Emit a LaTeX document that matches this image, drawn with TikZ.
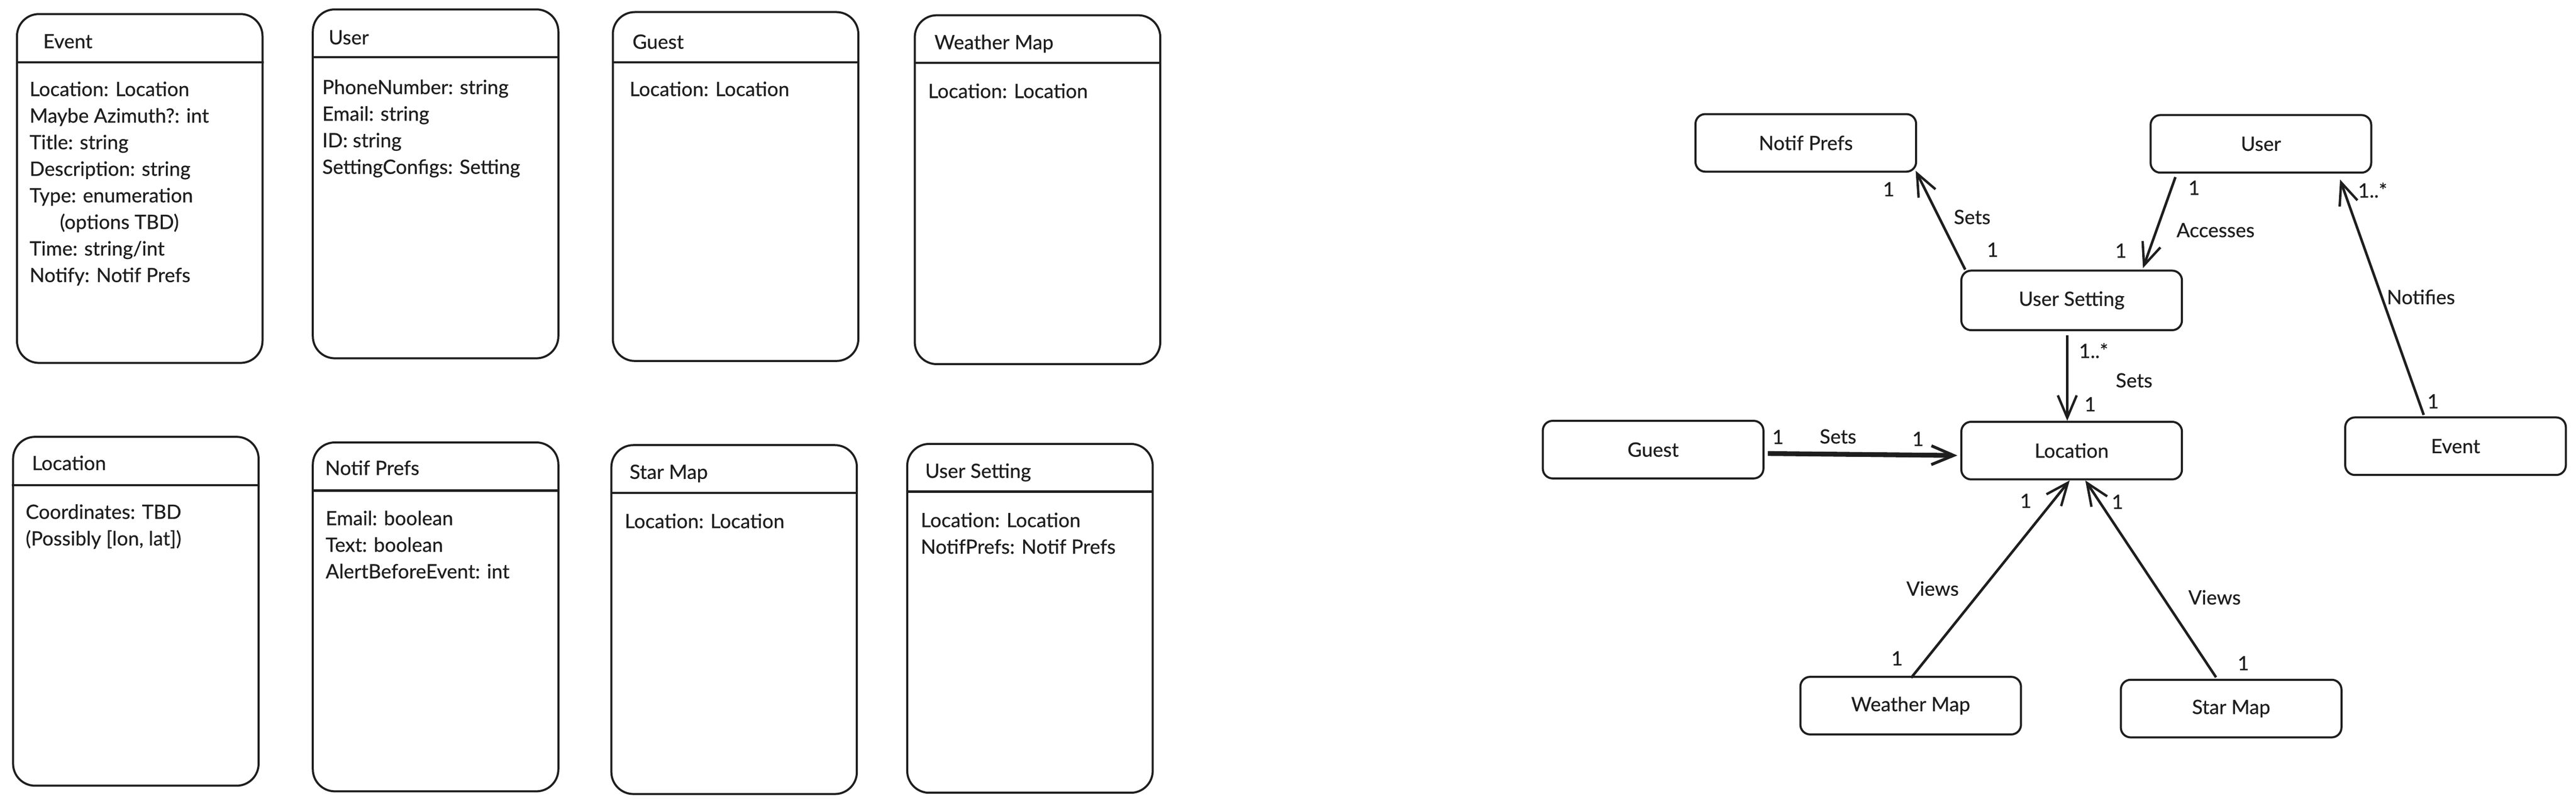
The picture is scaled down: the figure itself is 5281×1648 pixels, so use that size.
\documentclass[tikz,border=0pt]{standalone}
\usepackage{fontspec}
\setmainfont{Lato}[FakeBold=0.5]
\usetikzlibrary{arrows.meta,calc}
\definecolor{ink}{HTML}{1E1E1E}
\begin{document}
\begin{tikzpicture}[x=0.01cm,y=-0.01cm,
  classbox/.style={draw=ink, line width=1.2pt, rounded corners=0.45cm, minimum width=5.03cm, minimum height=7.15cm, inner sep=0pt},
  hline/.style={draw=ink, line width=1.3pt},
  rbox/.style={draw=ink, line width=1.2pt, rounded corners=0.2cm, minimum width=4.52cm, minimum height=1.18cm, inner sep=0pt, font=\fontsize{11.5}{13}\selectfont, text=ink},
  txt/.style={anchor=base west, inner sep=0pt, font=\fontsize{11.5}{13}\selectfont, text=ink},
  lbl/.style={inner sep=0pt, font=\fontsize{11.5}{13}\selectfont, text=ink},
  conn/.style={draw=ink, line width=1.5pt, -{Straight Barb[length=13pt,width=11pt,line width=1.4pt]}},
  thickconn/.style={draw=ink, line width=2.8pt, -{Straight Barb[length=13pt,width=11pt,line width=1.7pt]}}
]
\useasboundingbox[fill=white] (0,0) rectangle (5281,1648);

% ---------- left: class boxes ----------
\node[classbox] (cEvent) at (286.5,386.5) {};
\draw[hline] (cEvent.west |- 0,128) -- (cEvent.east |- 0,128);
\node[txt] (tEvent) at (88,99) {Event};
\node[txt] (ev1) at (60,197) {Location: Location};
\node[txt] (ev2) at (60,251.5) {Maybe Azimuth?: int};
\node[txt] (ev3) at (60,306) {Title: string};
\node[txt] (ev4) at (60,360.5) {Description: string};
\node[txt] (ev5) at (60,415) {Type: enumeration};
\node[txt] (ev6) at (122,469.5) {(options TBD)};
\node[txt] (ev7) at (60,524) {Time: string/int};
\node[txt] (ev8) at (60,578.5) {Notify: Notif Prefs};

\node[classbox] (cUser) at (893,377) {};
\draw[hline] (cUser.west |- 0,117) -- (cUser.east |- 0,117);
\node[txt] (tUser) at (673,91) {User};
\node[txt] (us1) at (660,193) {PhoneNumber: string};
\node[txt] (us2) at (660,247.5) {Email: string};
\node[txt] (us3) at (660,302) {ID: string};
\node[txt] (us4) at (660,356.5) {SettingConfigs: Setting};

\node[classbox] (cGuest) at (1508,382.5) {};
\draw[hline] (cGuest.west |- 0,128) -- (cGuest.east |- 0,128);
\node[txt] (tGuest) at (1296,100) {Guest};
\node[txt] (gu1) at (1290,197) {Location: Location};

\node[classbox] (cWeather) at (2127,389) {};
\draw[hline] (cWeather.west |- 0,129) -- (cWeather.east |- 0,129);
\node[txt] (tWeather) at (1915,101) {Weather Map};
\node[txt] (wm1) at (1902,201) {Location: Location};

\node[classbox] (cLocation) at (278.5,1253.5) {};
\draw[hline] (cLocation.west |- 0,995) -- (cLocation.east |- 0,995);
\node[txt] (tLocation) at (65,964) {Location};
\node[txt] (lo1) at (52,1064) {Coordinates: TBD};
\node[txt] (lo2) at (52,1118.5) {(Possibly [lon, lat])};

\node[classbox] (cNotif) at (893,1265) {};
\draw[hline] (cNotif.west |- 0,1006) -- (cNotif.east |- 0,1006);
\node[txt] (tNotif) at (666,974) {Notif Prefs};
\node[txt] (np1) at (667,1077) {Email: boolean};
\node[txt] (np2) at (667,1131.5) {Text: boolean};
\node[txt] (np3) at (667,1186) {AlertBeforeEvent: int};

\node[classbox] (cStar) at (1505,1270.5) {};
\draw[hline] (cStar.west |- 0,1011) -- (cStar.east |- 0,1011);
\node[txt] (tStar) at (1290,982) {Star Map};
\node[txt] (sm1) at (1280,1083) {Location: Location};

\node[classbox] (cSetting) at (2111.5,1268) {};
\draw[hline] (cSetting.west |- 0,1008) -- (cSetting.east |- 0,1008);
\node[txt] (tSetting) at (1896,980) {User Setting};
\node[txt] (st1) at (1887,1081) {Location: Location};
\node[txt] (st2) at (1887,1135.5) {NotifPrefs: Notif Prefs};

% ---------- right: relationship diagram ----------
\node[rbox] (np) at (3702,293) {Notif Prefs};
\node[rbox] (user) at (4635,295) {User};
\node[rbox, minimum height=1.22cm] (us) at (4247,616) {User Setting};
\node[rbox] (guest) at (3389,922) {Guest};
\node[rbox] (loc) at (4247,924) {Location};
\node[rbox] (event) at (5034,915) {Event};
\node[rbox] (wm) at (3917,1447) {Weather Map};
\node[rbox] (sm) at (4574,1453) {Star Map};

% User Setting -> Notif Prefs
\draw[conn] ($(us.north west)+(10,0)$) -- ($(np.south east)+(-3,-4)$);
\node[lbl] (a1) at (3872,388) {1};
\node[lbl] (a2) at (4043,445) {Sets};
\node[lbl] (a3) at (4085,512) {1};

% User -> User Setting
\draw[conn] ($(user.south west)+(53,7)$) -- ($(us.north east)+(-82,-3)$);
\node[lbl] (b1) at (4498,385) {1};
\node[lbl] (b2) at (4542,472) {Accesses};
\node[lbl] (b3) at (4348,514) {1};

% Event -> User
\draw[conn] ($(event.north west)+(163,-3)$) -- ($(user.south east)+(-66,12)$);
\node[lbl] (c1) at (4864,390) {1..*};
\node[lbl] (c2) at (4963,609) {Notifies};
\node[lbl] (c3) at (4988,823) {1};

% User Setting -> Location
\draw[conn] ($(us.south)+(-9,8)$) -- ($(loc.north)+(-9,0)$);
\node[lbl] (d1) at (4292,719) {1..*};
\node[lbl] (d2) at (4375,780) {Sets};
\node[lbl] (d3) at (4285,829) {1};

% Guest -> Location
\draw[thickconn] ($(guest.east)+(7,8)$) -- ($(loc.west)+(-6,10)$);
\node[lbl] (e1) at (3645,896) {1};
\node[lbl] (e2) at (3768,895) {Sets};
\node[lbl] (e3) at (3932,900) {1};

% Weather Map -> Location
\draw[conn] ($(wm.north)+(1,4)$) -- ($(loc.south)+(-4,0)$);
\node[lbl] (f1) at (4153,1027) {1};
\node[lbl] (f2) at (3962,1207) {Views};
\node[lbl] (f3) at (3889,1350) {1};

% Star Map -> Location
\draw[conn] ($(sm.north)+(-31,-3)$) -- ($(loc.south)+(28,0)$);
\node[lbl] (g1) at (4341,1029) {1};
\node[lbl] (g2) at (4540,1225) {Views};
\node[lbl] (g3) at (4599,1360) {1};
\end{tikzpicture}
\end{document}
